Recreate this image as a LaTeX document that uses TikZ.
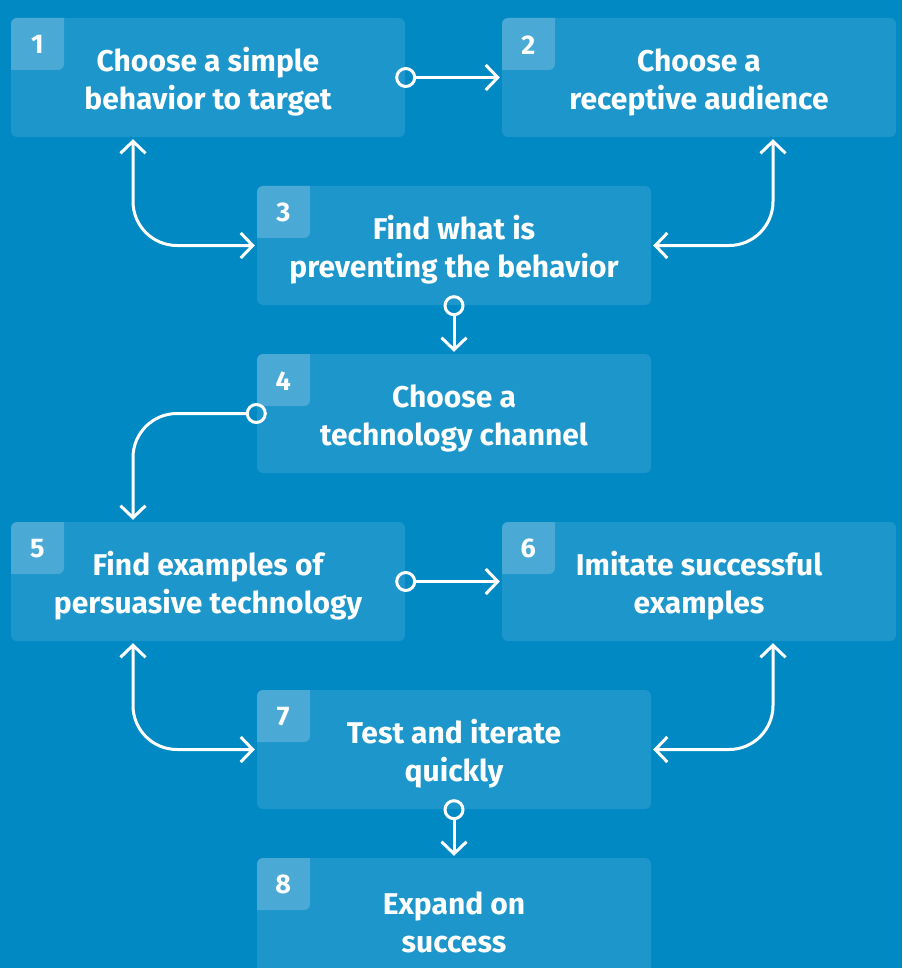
\documentclass[tikz,border=0pt]{standalone}
\usepackage{fontspec}
\setmainfont{Fira Sans}
\usetikzlibrary{arrows.meta}
\definecolor{bgblue}{RGB}{0,137,195}
\definecolor{boxblue}{RGB}{28,150,203}
\definecolor{tabblue}{RGB}{75,170,213}
\tikzset{
  stepbox/.style={fill=boxblue, rounded corners=6pt, minimum width=394pt,
    minimum height=119pt, inner sep=0pt,
    path picture={\fill[tabblue,rounded corners=6pt]
      ([shift={(-10pt,10pt)}]path picture bounding box.north west) rectangle
      ([shift={(53pt,-52pt)}]path picture bounding box.north west);}},
  steptext/.style={text=white, font=\fontsize{30}{38}\selectfont\bfseries,
    align=center, inner sep=0pt},
  stepnum/.style={text=white, font=\fontsize{27}{30}\selectfont\bfseries, inner sep=0pt},
  barb/.tip={Straight Barb[length=12pt,width=25pt]},
  ring/.tip={Circle[open,length=21pt,width=21pt]},
  flow/.style={draw=white, line width=3pt, ring-barb, shorten <=-10pt, shorten >=2pt,
    rounded corners=44pt},
  both/.style={draw=white, line width=3pt, barb-barb, shorten <=2pt, shorten >=2pt,
    rounded corners=44pt},
}
\begin{document}
\begin{tikzpicture}[x=1pt,y=-1pt]
\useasboundingbox (0,0) rectangle (902,968);
\fill[bgblue] (0,0) rectangle (902,968);
\clip (0,0) rectangle (902,968);
% step boxes with number tabs
\foreach \n/\x/\y/\t in {
  1/208/77.5/{Choose a simple\\behavior to target},
  2/699/77.5/{Choose a\\receptive audience},
  3/454/245.5/{Find what is\\preventing the behavior},
  4/454/413.5/{Choose a\\technology channel},
  5/208/581.5/{Find examples of\\persuasive technology},
  6/699/581.5/{Imitate successful\\examples},
  7/454/749.5/{Test and iterate\\quickly},
  8/454/917.5/{Expand on\\success}}{
  \node[stepbox] (b\n) at (\x,\y) {};
  \node[steptext] (t\n) at ([yshift=-4.5pt]b\n.center) {\t};
  \node[stepnum] (n\n) at ([shift={(26.5pt,-27pt)}]b\n.north west) {\n};
}
% connectors
\draw[flow] (b1.east) -- (b2.west);
\draw[both] ([xshift=-75pt]b1.south) |- (b3.west);
\draw[both] ([xshift=74pt]b2.south) |- (b3.east);
\draw[flow] (b3.south) -- (b4.north);
\draw[flow] (b4.west) -| ([xshift=-75pt]b5.north);
\draw[flow] (b5.east) -- (b6.west);
\draw[both] ([xshift=-75pt]b5.south) |- (b7.west);
\draw[both] ([xshift=74pt]b6.south) |- (b7.east);
\draw[flow] (b7.south) -- (b8.north);
\end{tikzpicture}
\end{document}
